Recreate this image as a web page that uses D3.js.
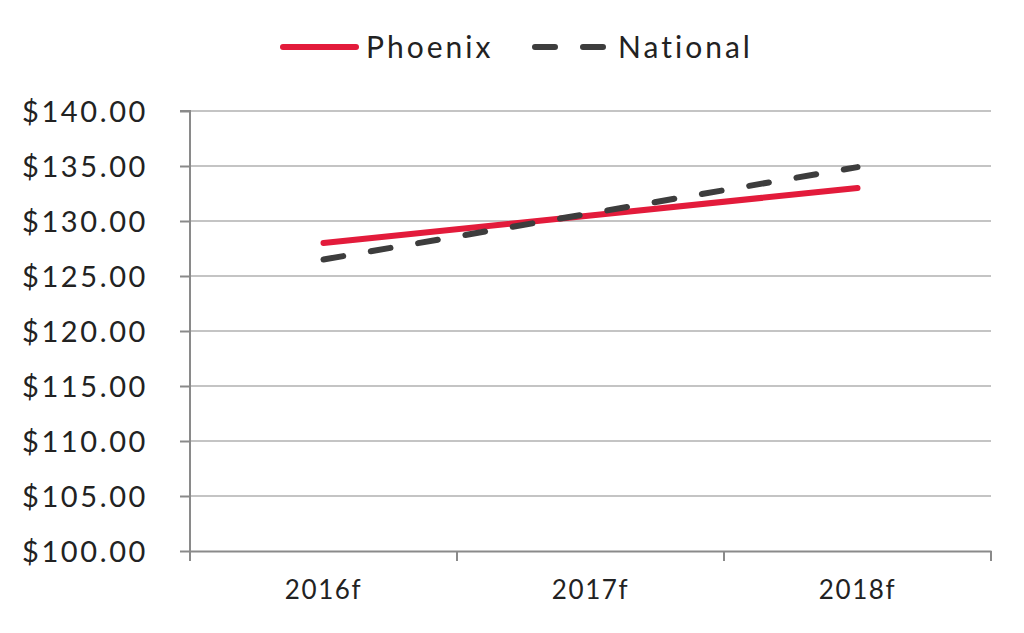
<!DOCTYPE html>
<html><head><meta charset="utf-8">
<script src="https://cdn.jsdelivr.net/npm/d3@7"></script>
<style>body{margin:0;background:#fff;} text{font-family:Lato, "Open Sans", sans-serif;fill:#222;}</style>
</head><body>
<svg id="c" width="1024" height="633"></svg>
<script>
const categories = ["2016f","2017f","2018f"];
const phoenix = [128.0, 130.5, 133.0];
const national = [126.5, 130.7, 134.9];
const yTicks = [100,105,110,115,120,125,130,135,140];
const seriesNames = ["Phoenix","National"];

const svg = d3.select("#c");
const m = {l:190, r:991, t:111, b:551};
const x = d3.scaleBand().domain(categories).range([m.l, m.r]);
const y = d3.scaleLinear().domain([100,140]).range([m.b, m.t]);

// gridlines
svg.append("g").selectAll("line").data(yTicks.filter(d=>d>100)).join("line")
  .attr("x1", m.l).attr("x2", m.r).attr("y1", d=>y(d)).attr("y2", d=>y(d))
  .attr("stroke", "#c4c4c4").attr("stroke-width", 2);

// y axis
const ya = svg.append("g").attr("transform", `translate(${m.l},0)`)
  .call(d3.axisLeft(y).tickValues(yTicks).tickSize(10).tickPadding(32).tickFormat(d=>"$"+d3.format(".2f")(d)));
ya.select(".domain").attr("stroke", "#8a8a8a").attr("stroke-width", 2).attr("d", `M-10,${m.t}H0V${m.b}`);
ya.selectAll(".tick line").attr("stroke", "#8a8a8a").attr("stroke-width", 2);
ya.selectAll("text").attr("font-size", 29).style("fill", "#222").attr("dy", "0.35em")
  .style("letter-spacing", "2.6px");

// x axis
const xa = svg.append("g").attr("transform", `translate(0,${m.b})`)
  .call(d3.axisBottom(x).tickSize(0).tickPadding(30));
xa.select(".domain").attr("stroke", "#8a8a8a").attr("stroke-width", 2);
xa.selectAll("text").attr("font-size", 26).style("fill", "#222").style("letter-spacing", "1.6px");
const bounds = categories.map(c=>x(c)).concat([m.r]);
xa.append("g").selectAll("line").data(bounds).join("line")
  .attr("x1", d=>d).attr("x2", d=>d).attr("y1", 0).attr("y2", 10)
  .attr("stroke", "#8a8a8a").attr("stroke-width", 2);

const cx = c => x(c) + x.bandwidth()/2;
const line = d3.line().x((d,i)=>cx(categories[i])).y(d=>y(d));

svg.append("path").datum(phoenix).attr("d", line).attr("fill","none")
  .attr("stroke", "#e31b3b").attr("stroke-width", 6).attr("stroke-linecap","round");
svg.append("path").datum(national).attr("d", line).attr("fill","none")
  .attr("stroke", "#3d3d3d").attr("stroke-width", 6).attr("stroke-linecap","round")
  .attr("stroke-dasharray", "20,28");

// legend
const lg = svg.append("g");
lg.append("line").attr("x1",283).attr("x2",356).attr("y1",47).attr("y2",47)
  .attr("stroke","#e31b3b").attr("stroke-width",6).attr("stroke-linecap","round");
lg.append("text").attr("x",366).attr("y",47).attr("dy","0.35em").attr("font-size",30)
  .style("letter-spacing","3px").text(seriesNames[0]);
lg.append("line").attr("x1",535).attr("x2",608).attr("y1",47).attr("y2",47)
  .attr("stroke","#3d3d3d").attr("stroke-width",6).attr("stroke-linecap","round")
  .attr("stroke-dasharray","20,28");
lg.append("text").attr("x",618).attr("y",47).attr("dy","0.35em").attr("font-size",30)
  .style("letter-spacing","3px").text(seriesNames[1]);
</script>
</body></html>
